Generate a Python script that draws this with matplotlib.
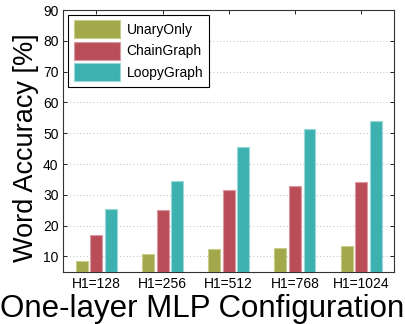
import matplotlib
matplotlib.use('Agg')
import matplotlib.pyplot as plt
import numpy as np

plt.rcParams['font.family'] = ['Liberation Sans', 'DejaVu Sans']

# values
configs = ['H1=128', 'H1=256', 'H1=512', 'H1=768', 'H1=1024']
unary_only = [8.6, 10.7, 12.4, 12.9, 13.3]
chain_graph = [16.8, 25.1, 31.7, 33.0, 34.3]
loopy_graph = [25.4, 34.6, 45.5, 51.4, 53.9]

series = [
    ('UnaryOnly', unary_only, '#a3a84b', '#c9cc8a'),
    ('ChainGraph', chain_graph, '#b94e59', '#dc9aa2'),
    ('LoopyGraph', loopy_graph, '#3db0b0', '#9ad9d9'),
]

fig = plt.figure(figsize=(4.06, 3.24), dpi=100)
ax = fig.add_axes([0.156, 0.161, 0.815, 0.808])

x = np.arange(1, len(configs) + 1)
width = 0.18
step = 0.22
for i, (name, vals, color, edge) in enumerate(series):
    ax.bar(x + (i - 1) * step, vals, width, bottom=0, color=color,
           edgecolor=edge, linewidth=0.8, label=name, zorder=3)

ax.set_xlim(0.5, 5.5)
ax.set_ylim(5, 90)
ax.set_xticks(x)
ax.set_xticklabels(configs, fontsize=10)
ax.set_yticks(np.arange(10, 91, 10))
ax.tick_params(axis='y', labelsize=10)
ax.tick_params(direction='in', top=True, right=True, length=3, width=0.6)
ax.yaxis.grid(True, linestyle=(0, (1, 3)), color='#aaaaaa', linewidth=0.6, zorder=0)
for s in ax.spines.values():
    s.set_linewidth(0.8)
    s.set_color('#333333')

# the x label in the original sits centred on the figure, not the axes
fig.text(0.497, 0.022, 'One-layer MLP Configuration', fontsize=22.5,
         ha='center', va='baseline')
ax.set_ylabel('Word Accuracy [%]', fontsize=19.5)
ax.yaxis.set_label_coords(-0.075, 0.473)

leg = ax.legend(loc='upper left', fontsize=10, fancybox=False, framealpha=1,
                edgecolor='black', borderaxespad=0.35, handlelength=3.3,
                handleheight=1.6, labelspacing=0.25, handletextpad=0.5,
                borderpad=0.4)
leg.get_frame().set_linewidth(0.8)

plt.savefig('out.png', dpi=100)
